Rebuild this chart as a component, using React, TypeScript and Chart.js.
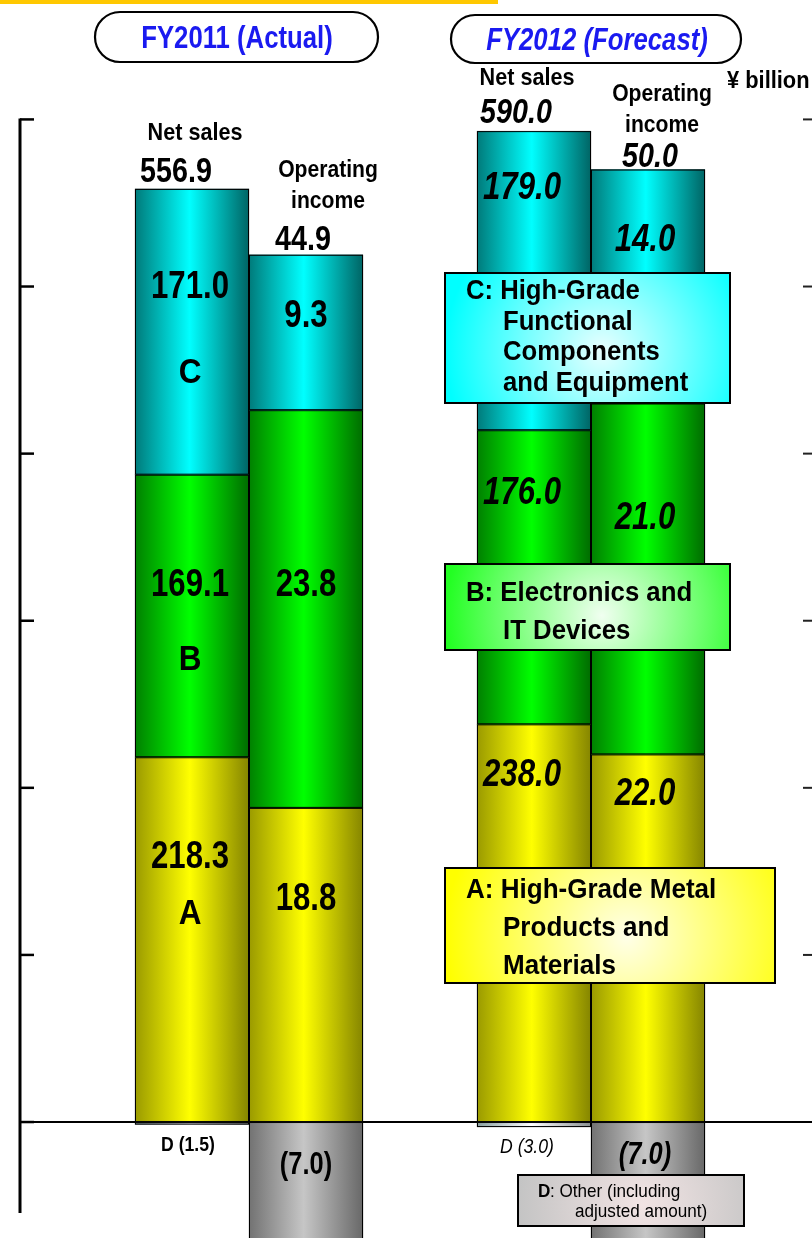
import React, { useEffect, useRef } from 'react';
import { Chart, registerables } from 'chart.js';
Chart.register(...registerables);

// ---------------- data ----------------
const YEARS = ['FY2011 (Actual)', 'FY2012 (Forecast)'];
const YEAR_X = [0, 1];
const NET_SALES_A = [218.3, 238.0];
const NET_SALES_B = [169.1, 176.0];
const NET_SALES_C = [171.0, 179.0];
const NET_SALES_D = [-1.5, -3.0];
const OP_INCOME_A = [18.8, 22.0];
const OP_INCOME_B = [23.8, 21.0];
const OP_INCOME_C = [9.3, 14.0];
const OP_INCOME_D = [-7.0, -7.0];
const NET_SALES_TOTAL = [556.9, 590.0];
const OP_INCOME_TOTAL = [44.9, 50.0];
const NS_TICKS = [0, 100, 200, 300, 400, 500, 600];
const OI_TICKS = [0, 10, 20, 30, 40, 50, 60];
const SEGMENT_LETTERS = ['A', 'B', 'C'];
const LEGEND_C = ['C: High-Grade', 'Functional', 'Components', 'and Equipment'];
const LEGEND_B = ['B: Electronics and', 'IT Devices'];
const LEGEND_A = ['A: High-Grade Metal', 'Products and', 'Materials'];
const LEGEND_D = ['D', ': Other (including', 'adjusted amount)'];
const UNIT = '¥ billion';

// ---------------- styles / layout ----------------
const FONT = '"Liberation Sans", Arial, Helvetica, sans-serif';
const BAR_W = 114;
const GRAD: Record<string, string[]> = {
  A: ['#9a9a00', '#ffff00', '#858500'],
  B: ['#008000', '#00ff00', '#006c00'],
  C: ['#007a7a', '#00ffff', '#006464'],
  D: ['#727272', '#c6c6c6', '#686868'],
  Dthin: ['#8aa0a0', '#ffffff', '#8a9090'],
};
const BASE: Record<string, string> = { A: '#e0e000', B: '#00d000', C: '#00d0d0', D: '#a0a0a0' };
// label centres, in axis units (net sales axis / operating income axis)
const NS_LABEL_AT = [[158.5, 321, 499.4, -13.8], [207.5, 376, 558.6, -15]];
const OI_LABEL_AT = [[13.3, 32.1, 48.2, -2.6], [19.6, 36.1, 52.75, -2.0]];
const LETTER_AT = [124, 276, 448];

type TOpt = { size: number; weight?: string; italic?: boolean; align?: CanvasTextAlign; color?: string; sx?: number; baseline?: CanvasTextBaseline };
function drawText(ctx: CanvasRenderingContext2D, s: string, x: number, y: number, o: TOpt) {
  ctx.save();
  ctx.font = `${o.italic ? 'italic ' : ''}${o.weight ?? 'bold'} ${o.size}px ${FONT}`;
  ctx.fillStyle = o.color ?? '#000';
  ctx.textAlign = o.align ?? 'center';
  ctx.textBaseline = o.baseline ?? 'middle';
  ctx.translate(x, y);
  ctx.scale(o.sx ?? 0.84, 1);
  ctx.fillText(s, 0, 0);
  ctx.restore();
}

function shadeBar(ctx: CanvasRenderingContext2D, left: number, top: number, w: number, h: number, stops: string[]) {
  const g = ctx.createLinearGradient(left, 0, left + w, 0);
  g.addColorStop(0, stops[0]);
  g.addColorStop(0.48, stops[1]);
  g.addColorStop(1, stops[2]);
  ctx.fillStyle = g;
  ctx.fillRect(left, top, w, h);
  ctx.strokeStyle = '#000';
  ctx.lineWidth = 1;
  ctx.strokeRect(left + 0.5, top + 0.5, w - 1, Math.max(h - 1, 1));
}

function glowBox(ctx: CanvasRenderingContext2D, x: number, y: number, w: number, h: number, edge: string, center: string) {
  const cx = x + w * 0.55, cy = y + h * 0.6;
  const g = ctx.createRadialGradient(cx, cy, 0, cx, cy, Math.max(w, h) * 0.55);
  g.addColorStop(0, center);
  g.addColorStop(1, edge);
  ctx.fillStyle = g;
  ctx.fillRect(x, y, w, h);
  ctx.strokeStyle = '#000';
  ctx.lineWidth = 2;
  ctx.strokeRect(x, y, w, h);
}

function pill(ctx: CanvasRenderingContext2D, x: number, y: number, w: number, h: number) {
  const r = h / 2;
  ctx.beginPath();
  ctx.moveTo(x + r, y);
  ctx.lineTo(x + w - r, y);
  ctx.arc(x + w - r, y + r, r, -Math.PI / 2, Math.PI / 2);
  ctx.lineTo(x + r, y + h);
  ctx.arc(x + r, y + r, r, Math.PI / 2, Math.PI * 1.5);
  ctx.closePath();
  ctx.fillStyle = '#fff';
  ctx.fill();
  ctx.strokeStyle = '#000';
  ctx.lineWidth = 2.2;
  ctx.stroke();
}

const axesPlugin = {
  id: 'axesPlugin',
  beforeDatasetsDraw(chart: any) {
    const { ctx, chartArea, scales } = chart;
    const y = scales.y, y1 = scales.y1;
    ctx.save();
    // top orange rule
    ctx.fillStyle = '#ffc800';
    ctx.fillRect(0, 0, 498, 4);
    // left axis
    ctx.strokeStyle = '#000';
    ctx.lineWidth = 3;
    ctx.beginPath();
    ctx.moveTo(chartArea.left, y.getPixelForValue(NS_TICKS[NS_TICKS.length - 1]) - 1);
    ctx.lineTo(chartArea.left, y.getPixelForValue(-54.5));
    ctx.stroke();
    ctx.lineWidth = 2.5;
    NS_TICKS.forEach((t) => {
      const py = y.getPixelForValue(t);
      ctx.beginPath();
      ctx.moveTo(chartArea.left, py);
      ctx.lineTo(chartArea.left + 14, py);
      ctx.stroke();
    });
    ctx.strokeStyle = '#222';
    ctx.lineWidth = 2;
    OI_TICKS.forEach((t) => {
      const py = y1.getPixelForValue(t);
      ctx.beginPath();
      ctx.moveTo(chartArea.right - 9, py);
      ctx.lineTo(chartArea.right, py);
      ctx.stroke();
    });
    // zero line
    ctx.strokeStyle = '#000';
    ctx.lineWidth = 2;
    const z = y.getPixelForValue(0);
    ctx.beginPath();
    ctx.moveTo(chartArea.left, z);
    ctx.lineTo(chartArea.right, z);
    ctx.stroke();
    ctx.restore();
  },
};

const barsPlugin = {
  id: 'barsPlugin',
  afterDatasetsDraw(chart: any) {
    const { ctx, scales } = chart;
    ctx.save();
    chart.data.datasets.forEach((ds: any, di: number) => {
      const meta = chart.getDatasetMeta(di);
      meta.data.forEach((el: any) => {
        const p = el.getProps(['x', 'y', 'base', 'width'], true);
        const left = p.x - p.width / 2;
        const top = Math.min(p.y, p.base);
        const h = Math.abs(p.base - p.y);
        const key = ds.seg === 'D' && ds.stack === 'ns' ? 'Dthin' : ds.seg;
        shadeBar(ctx, left, top, p.width, h, GRAD[key]);
      });
    });

    const segs = ['A', 'B', 'C', 'D'];
    const find = (stack: string, seg: string) => chart.data.datasets.findIndex((d: any) => d.stack === stack && d.seg === seg);
    YEARS.forEach((_, i) => {
      const italic = i === 1;
      segs.forEach((seg, si) => {
        const nsEl = chart.getDatasetMeta(find('ns', seg)).data[i];
        const oiEl = chart.getDatasetMeta(find('oi', seg)).data[i];
        const nsVal = chart.data.datasets[find('ns', seg)].data[i].y;
        const oiVal = chart.data.datasets[find('oi', seg)].data[i].y;
        const nsY = scales.y.getPixelForValue(NS_LABEL_AT[i][si]);
        const oiY = scales.y1.getPixelForValue(OI_LABEL_AT[i][si]);
        if (seg === 'D') {
          drawText(ctx, `D (${Math.abs(nsVal).toFixed(1)})`, nsEl.x - (italic ? 7 : 4), nsY, { size: 21, italic, weight: italic ? 'normal' : 'bold' });
          drawText(ctx, `(${Math.abs(oiVal).toFixed(1)})`, oiEl.x - (italic ? 3 : 0), oiY, { size: 31, italic, sx: 0.82 });
        } else {
          drawText(ctx, nsVal.toFixed(1), nsEl.x - (italic ? 12 : 2), nsY, { size: 38, italic, sx: 0.82 });
          drawText(ctx, oiVal.toFixed(1), oiEl.x - (italic ? 3 : 0), oiY, { size: 38, italic, sx: 0.82 });
          if (!italic) {
            drawText(ctx, SEGMENT_LETTERS[si], nsEl.x - 2, scales.y.getPixelForValue(LETTER_AT[si]), { size: 35, sx: 0.9 });
          }
        }
      });
      // headers above bars
      const nsTop = chart.getDatasetMeta(find('ns', 'C')).data[i];
      const oiTop = chart.getDatasetMeta(find('oi', 'C')).data[i];
      const hdr = i === 0
        ? { ns: [-49, -7], oi: [-78, -47, -5], nsdx: [3, -16], oidx: [22, -3] }
        : { ns: [-46, -8], oi: [-69, -38, -3], nsdx: [-7, -18], oidx: [14, 2] };
      drawText(ctx, 'Net sales', nsTop.x + hdr.nsdx[0], nsTop.y + hdr.ns[0], { size: 24, baseline: 'alphabetic', sx: 0.9 });
      drawText(ctx, NET_SALES_TOTAL[i].toFixed(1), nsTop.x + hdr.nsdx[1], nsTop.y + hdr.ns[1], { size: 35, italic, baseline: 'alphabetic', sx: 0.82 });
      drawText(ctx, 'Operating', oiTop.x + hdr.oidx[0], oiTop.y + hdr.oi[0], { size: 24, baseline: 'alphabetic', sx: 0.88 });
      drawText(ctx, 'income', oiTop.x + hdr.oidx[0], oiTop.y + hdr.oi[1], { size: 24, baseline: 'alphabetic', sx: 0.88 });
      drawText(ctx, OP_INCOME_TOTAL[i].toFixed(1), oiTop.x + hdr.oidx[1], oiTop.y + hdr.oi[2], { size: 35, italic, baseline: 'alphabetic', sx: 0.82 });
    });

    // year titles
    pill(ctx, 95, 12, 283, 50);
    drawText(ctx, YEARS[0], 237, 39, { size: 31, color: '#1a1af0', sx: 0.83 });
    pill(ctx, 451, 15, 290, 48);
    drawText(ctx, YEARS[1], 597, 41, { size: 31, italic: true, color: '#1a1af0', sx: 0.83 });
    drawText(ctx, UNIT, 727, 88, { size: 23, align: 'left', baseline: 'alphabetic', sx: 0.95 });

    // segment legend boxes
    glowBox(ctx, 445, 273, 285, 130, '#00ffff', '#e8ffff');
    LEGEND_C.forEach((t, k) => drawText(ctx, t, k === 0 ? 466 : 503, 299 + k * 30.5, { size: 27, align: 'left', baseline: 'alphabetic', sx: 0.95 }));
    glowBox(ctx, 445, 564, 285, 86, '#22ff22', '#f0fff0');
    LEGEND_B.forEach((t, k) => drawText(ctx, t, k === 0 ? 466 : 503, 601 + k * 38, { size: 28, align: 'left', baseline: 'alphabetic', sx: 0.92 }));
    glowBox(ctx, 445, 868, 330, 115, '#ffff00', '#ffffe8');
    LEGEND_A.forEach((t, k) => drawText(ctx, t, k === 0 ? 466 : 503, 898 + k * 38, { size: 28, align: 'left', baseline: 'alphabetic', sx: 0.93 }));
    glowBox(ctx, 518, 1175, 226, 51, '#c4c4c4', '#f2e4e4');
    drawText(ctx, LEGEND_D[0], 538, 1197, { size: 19, align: 'left', baseline: 'alphabetic', sx: 0.9 });
    drawText(ctx, LEGEND_D[1], 550, 1197, { size: 19, weight: 'normal', align: 'left', baseline: 'alphabetic', sx: 0.9 });
    drawText(ctx, LEGEND_D[2], 575, 1217, { size: 19, weight: 'normal', align: 'left', baseline: 'alphabetic', sx: 0.9 });
    ctx.restore();
  },
};

function series(label: string, values: number[], stack: string, axis: string, seg: string) {
  return {
    label,
    seg,
    stack,
    yAxisID: axis,
    data: values.map((v, i) => ({ x: YEAR_X[i], y: v })),
    backgroundColor: BASE[seg],
    borderColor: '#000',
    borderWidth: 1,
    borderSkipped: false,
    barThickness: BAR_W,
  };
}

export default function App() {
  const ref = useRef<HTMLCanvasElement>(null);
  useEffect(() => {
    document.body.style.margin = '0';
    document.body.style.overflow = 'hidden';
    const chart = new Chart(ref.current as HTMLCanvasElement, {
      type: 'bar',
      data: {
        datasets: [
          series('Net sales A', NET_SALES_A, 'ns', 'y', 'A'),
          series('Net sales B', NET_SALES_B, 'ns', 'y', 'B'),
          series('Net sales C', NET_SALES_C, 'ns', 'y', 'C'),
          series('Net sales D', NET_SALES_D, 'ns', 'y', 'D'),
          series('Operating income A', OP_INCOME_A, 'oi', 'y1', 'A'),
          series('Operating income B', OP_INCOME_B, 'oi', 'y1', 'B'),
          series('Operating income C', OP_INCOME_C, 'oi', 'y1', 'C'),
          series('Operating income D', OP_INCOME_D, 'oi', 'y1', 'D'),
        ] as any,
      },
      options: {
        animation: false,
        responsive: true,
        maintainAspectRatio: false,
        layout: { padding: { top: 86, left: 20, right: 0, bottom: 0 } },
        plugins: { legend: { display: false }, tooltip: { enabled: false } },
        scales: {
          x: { type: 'linear', display: false, min: -0.6696, max: 1.6462, offset: false },
          y: { display: false, stacked: true, min: -69.4, max: 620 },
          y1: { display: false, stacked: true, min: -6.94, max: 62, position: 'right' },
        },
      } as any,
      plugins: [axesPlugin, barsPlugin],
    });
    return () => chart.destroy();
  }, []);
  return (
    <div style={{ position: 'absolute', left: 0, top: 0, width: 812, height: 1238 }}>
      <canvas ref={ref} />
    </div>
  );
}
